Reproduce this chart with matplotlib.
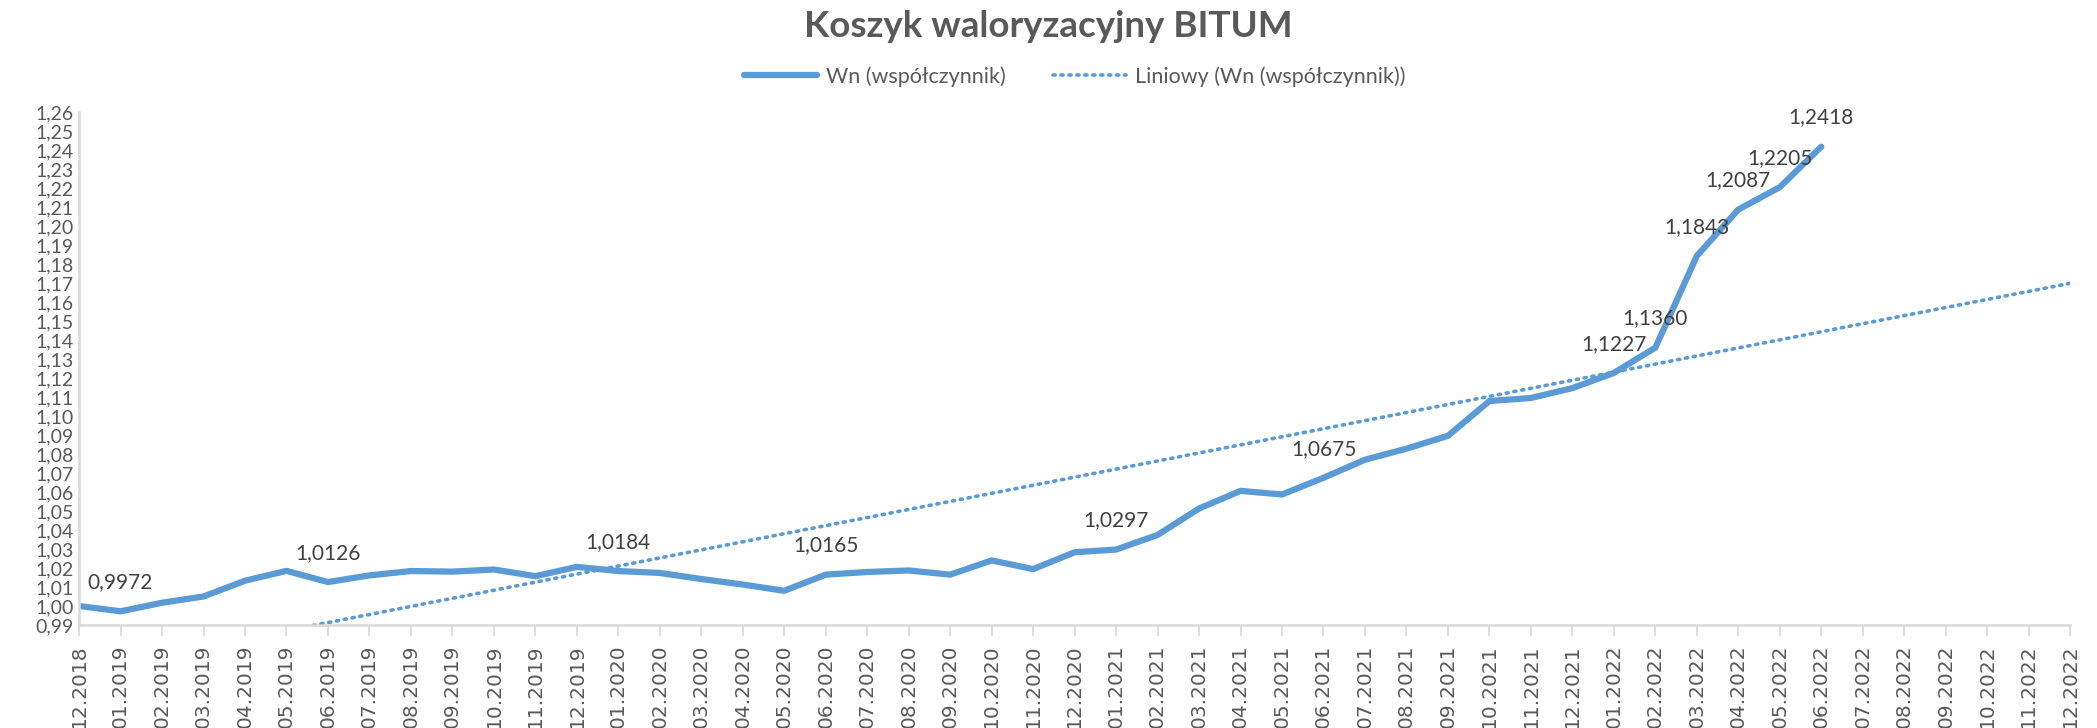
import numpy as np
import matplotlib
matplotlib.use("Agg")
import matplotlib.pyplot as plt

# months on the category axis (data + 6 months of trend forecast)
months = ["12.2018", "01.2019", "02.2019", "03.2019", "04.2019", "05.2019", "06.2019",
          "07.2019", "08.2019", "09.2019", "10.2019", "11.2019", "12.2019",
          "01.2020", "02.2020", "03.2020", "04.2020", "05.2020", "06.2020",
          "07.2020", "08.2020", "09.2020", "10.2020", "11.2020", "12.2020",
          "01.2021", "02.2021", "03.2021", "04.2021", "05.2021", "06.2021",
          "07.2021", "08.2021", "09.2021", "10.2021", "11.2021", "12.2021",
          "01.2022", "02.2022", "03.2022", "04.2022", "05.2022", "06.2022",
          "07.2022", "08.2022", "09.2022", "10.2022", "11.2022", "12.2022"]

# Wn (współczynnik), 12.2018 - 06.2022
wn = [1.0000, 0.9972, 1.0017, 1.0050, 1.0133, 1.0185, 1.0126, 1.0161, 1.0184, 1.0181,
      1.0192, 1.0157, 1.0206, 1.0184, 1.0174, 1.0142, 1.0113, 1.0080, 1.0165, 1.0179,
      1.0187, 1.0165, 1.0240, 1.0194, 1.0283, 1.0297, 1.0374, 1.0513, 1.0606, 1.0587,
      1.0675, 1.0770, 1.0828, 1.0896, 1.1079, 1.1095, 1.1147, 1.1227, 1.1360, 1.1843,
      1.2087, 1.2205, 1.2418]

# months that carry a data label
labelled = ["01.2019", "06.2019", "01.2020", "06.2020", "01.2021", "06.2021",
            "01.2022", "02.2022", "03.2022", "04.2022", "05.2022", "06.2022"]

blue = "#5B9BD5"
grey = "#595959"
axis_grey = "#D9D9D9"
font = ["Lato", "DejaVu Sans"]

fig = plt.figure(figsize=(20.97, 7.28), dpi=100)
ax = fig.add_axes([0.0377, 0.1415, 0.9495, 0.7045])

x = np.arange(len(wn))
ax.plot(x, wn, color=blue, lw=4.5, solid_capstyle="round", solid_joinstyle="round",
        label="Wn (współczynnik)")

# linear trendline, forecast to the end of the category axis
slope, icpt = np.polyfit(x, wn, 1)
xt = np.arange(len(months))
ax.plot(xt, slope * xt + icpt, color=blue, lw=2.6, linestyle=(0, (0.6, 1.6)),
        dash_capstyle="round", label="Liniowy (Wn (współczynnik))")

for m in labelled:
    i = months.index(m)
    ax.annotate(f"{wn[i]:.4f}".replace(".", ","), (i, wn[i]), xytext=(0, 21),
                textcoords="offset points", ha="center", va="center",
                fontsize=15, color="#404040", family=font)

ax.set_xlim(0, len(months) - 1)
ax.set_ylim(0.99, 1.26)
yt = np.arange(99, 127) / 100
ax.set_yticks(yt)
ax.set_yticklabels([f"{v:.2f}".replace(".", ",") for v in yt], family=font,
                   fontsize=14, color=grey)
ax.set_xticks(xt)
ax.set_xticklabels(months, rotation=90, family="DejaVu Sans", fontsize=14.5, color=grey)
ax.tick_params(axis="y", length=0, pad=4)
ax.tick_params(axis="x", length=8, color=axis_grey, width=1.3, pad=6)

for s in ["top", "right"]:
    ax.spines[s].set_visible(False)
for s in ["left", "bottom"]:
    ax.spines[s].set_color(axis_grey)
    ax.spines[s].set_linewidth(1.8)

leg = ax.legend(loc="center", bbox_to_anchor=(0.5, 1.07), ncol=2, frameon=False,
                prop={"family": font, "size": 15.5}, handlelength=3.4, columnspacing=2.2,
                handletextpad=0.4)
for t in leg.get_texts():
    t.set_color(grey)

fig.text(0.5, 0.963, "Koszyk waloryzacyjny BITUM", ha="center", va="center",
         fontsize=26.5, fontweight="bold", color=grey, family=font)

fig.savefig("out.png", dpi=100, facecolor="white")
